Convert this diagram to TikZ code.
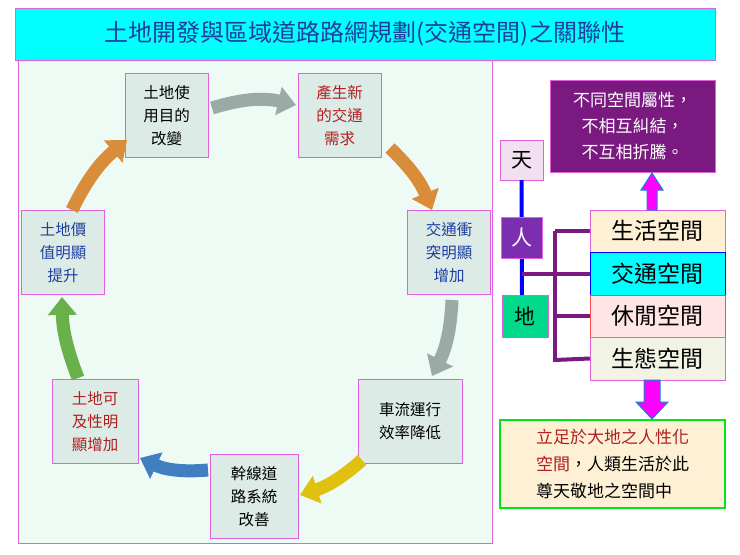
\documentclass[tikz,border=0pt]{standalone}
\usepackage{fontspec}
\setmainfont{Noto Sans CJK TC}
\usetikzlibrary{arrows.meta}
\definecolor{mint}{HTML}{EEFAF4}
\definecolor{nodefill}{HTML}{DCEBE6}
\definecolor{mag}{HTML}{E060E0}
\definecolor{dred}{HTML}{B02020}
\definecolor{dblue}{HTML}{1F3F9F}
\definecolor{purp}{HTML}{7A1A80}
\definecolor{ccyan}{HTML}{00FFFF}
\definecolor{cmag}{HTML}{FF00FF}
\definecolor{grayarr}{HTML}{9AABA6}
\definecolor{orarr}{HTML}{D98C3A}
\definecolor{yelarr}{HTML}{E0C010}
\definecolor{bluarr}{HTML}{3F7FC0}
\definecolor{grnarr}{HTML}{6AB04A}
\definecolor{digreen}{HTML}{00D88A}
\definecolor{renp}{HTML}{7B2FB0}
\definecolor{cream}{HTML}{FDF0D5}
\begin{document}
\begin{tikzpicture}[x=1pt,y=-1pt,
  cyc/.style={draw=mag,fill=nodefill,minimum width=83pt,minimum height=84pt,align=center,font=\fontsize{15.5}{23}\selectfont,inner sep=2pt},
  sp/.style={draw=mag,minimum width=135pt,minimum height=42.5pt,font=\fontsize{23}{24}\selectfont,inner sep=0pt},
  carr/.style={line width=13pt,-{Triangle[width=28pt,length=18pt]}},
  bigarr/.style={draw=cyan!70!blue,fill=cmag,line width=1pt}]
\useasboundingbox (0,0) rectangle (740,555);
\fill[white] (0,0) rectangle (740,555);
\node[draw=mag,fill=ccyan,minimum width=700pt,minimum height=52pt,text=dblue,font=\fontsize{24}{26}\selectfont] (title) at (365,34) {土地開發與區域道路路網規劃(交通空間)之關聯性};
\node[draw=mag,fill=mint,minimum width=474pt,minimum height=483pt,inner sep=0pt] (panel) at (255,301.5) {};
\node[cyc] (a) at (166.5,115.5) {土地使\\用目的\\改變};
\node[cyc,text=dred] (b) at (339.5,115.5) {產生新\\的交通\\需求};
\node[cyc,text=dblue] (c) at (449,252.5) {交通衝\\突明顯\\增加};
\node[cyc,minimum width=104pt] (d) at (410,421.5) {車流運行\\效率降低};
\node[cyc,minimum width=88pt] (e) at (254,496.5) {幹線道\\路系統\\改善};
\node[cyc,text=dred,minimum width=86pt] (f) at (95,421.5) {土地可\\及性明\\顯增加};
\node[cyc,text=dblue] (g) at (63,252.5) {土地價\\值明顯\\提升};
\coordinate (a1) at (212,108); \coordinate (b0) at (296,105);
\coordinate (b1) at (390,148); \coordinate (c0) at (432,210);
\coordinate (c1) at (452,300); \coordinate (d0) at (432,376);
\coordinate (d1) at (362,460); \coordinate (e0) at (300,495);
\coordinate (e1) at (208,470); \coordinate (f0) at (140,458);
\coordinate (f1) at (78,378); \coordinate (g0) at (62,297);
\coordinate (g1) at (72,210); \coordinate (a0) at (127,140);
\draw[carr,grayarr] (a1) to[bend left=15] (b0);
\draw[carr,orarr] (b1) to[bend left=12] (c0);
\draw[carr,grayarr] (c1) to[bend left=12] (d0);
\draw[carr,yelarr] (d1) to[bend left=12] (e0);
\draw[carr,bluarr] (e1) to[bend left=15] (f0);
\draw[carr,grnarr] (f1) to[bend left=10] (g0);
\draw[carr,orarr] (g1) to[bend left=12] (a0);
% right side
\node[draw=mag,fill=purp,text=white,minimum width=165pt,minimum height=92pt,align=center,font=\fontsize{17}{26}\selectfont] (attr) at (632.5,126) {不同空間屬性，\\不相互糾結，\\不互相折騰。};
\node[draw=mag,fill=violet!12,minimum width=43pt,minimum height=40pt,font=\fontsize{21}{22}\selectfont,inner sep=0pt] (tian) at (521.5,160) {天};
\node[draw=mag,fill=digreen,minimum width=46pt,minimum height=42pt,font=\fontsize{21}{22}\selectfont,inner sep=0pt] (di) at (525,316) {地};
\draw[blue,line width=4pt] (tian.south) -- (522,295);
\node[draw=mag,fill=renp,text=white,minimum width=41pt,minimum height=41pt,font=\fontsize{21}{22}\selectfont,inner sep=0pt] (ren) at (522,237.5) {人};
\node[sp,fill=cream] (s1) at (657.5,231) {生活空間};
\node[sp,fill=ccyan,draw=blue] (s2) at (657.5,273.5) {交通空間};
\node[sp,fill=red!10,draw=red!70] (s3) at (657.5,316) {休閒空間};
\node[sp,fill=green!10!olive!10] (s4) at (657.5,358.5) {生態空間};
\draw[purp,line width=4pt] (555,231) -- (555,362);
\draw[purp,line width=4pt] (555,231) -- (s1.west);
\draw[purp,line width=4pt] (522,273.5) -- (s2.west);
\draw[purp,line width=4pt] (555,316) -- (s3.west);
\draw[purp,line width=4pt] (555,360) -- (s4.west);
\draw[bigarr] (647,210) -- (647,190) -- (641,190) -- (652,173) -- (663,190) -- (657,190) -- (657,210) -- cycle;
\draw[bigarr] (644,380) -- (644,402) -- (636,402) -- (652,419) -- (668,402) -- (660,402) -- (660,380) -- cycle;
\node[draw=green!80!teal,line width=1.5pt,fill=cream,minimum width=225pt,minimum height=88pt,align=left,font=\fontsize{17}{27}\selectfont,inner sep=6pt] (foot) at (612.5,464) {\textcolor{dred}{立足於大地之人性化}\\\textcolor{dred}{空間}，人類生活於此\\尊天敬地之空間中};
\end{tikzpicture}
\end{document}
